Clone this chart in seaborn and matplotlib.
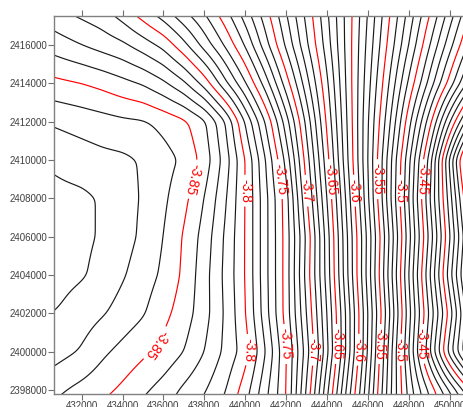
import numpy as np
import matplotlib
matplotlib.use("Agg")
import matplotlib.pyplot as plt
import seaborn as sns

sns.set_style("white")
plt.rcParams['font.family'] = ['Liberation Sans', 'DejaVu Sans']
plt.rcParams['contour.negative_linestyle'] = 'solid'

# ------------------------------------------------------------
# grid nodes (easting / northing in m) and field values
# ------------------------------------------------------------
easting = np.arange(430000, 451001, 1000)          # 22 columns
northing = [2397000, 2398000, 2400000, 2402000, 2404000, 2406000,
            2408000, 2410000, 2412000, 2414000, 2416000, 2418000]

z_2397000 = [-3.861, -3.857, -3.853, -3.848, -3.843, -3.837, -3.831, -3.824, -3.817, -3.807, -3.791,
             -3.771, -3.751, -3.705, -3.659, -3.612, -3.570, -3.524, -3.488, -3.464, -3.441, -3.417]
z_2398000 = [-3.864, -3.861, -3.857, -3.853, -3.848, -3.842, -3.836, -3.828, -3.821, -3.811, -3.795,
             -3.773, -3.751, -3.709, -3.663, -3.617, -3.573, -3.526, -3.486, -3.458, -3.429, -3.400]
z_2400000 = [-3.878, -3.873, -3.869, -3.862, -3.857, -3.852, -3.847, -3.840, -3.830, -3.818, -3.805,
             -3.780, -3.751, -3.715, -3.673, -3.626, -3.579, -3.529, -3.480, -3.432, -3.385, -3.345]
z_2402000 = [-3.881, -3.879, -3.875, -3.871, -3.866, -3.861, -3.853, -3.845, -3.834, -3.819, -3.801,
             -3.774, -3.746, -3.710, -3.670, -3.626, -3.580, -3.534, -3.484, -3.439, -3.396, -3.350]
z_2404000 = [-3.886, -3.883, -3.881, -3.877, -3.871, -3.865, -3.858, -3.848, -3.834, -3.818, -3.800,
             -3.773, -3.746, -3.706, -3.666, -3.621, -3.576, -3.529, -3.480, -3.432, -3.384, -3.340]
z_2406000 = [-3.886, -3.884, -3.882, -3.879, -3.874, -3.868, -3.860, -3.849, -3.836, -3.819, -3.800,
             -3.773, -3.746, -3.708, -3.665, -3.620, -3.577, -3.532, -3.484, -3.438, -3.391, -3.345]
z_2408000 = [-3.885, -3.883, -3.882, -3.879, -3.874, -3.869, -3.862, -3.853, -3.840, -3.822, -3.800,
             -3.773, -3.745, -3.701, -3.660, -3.616, -3.572, -3.526, -3.480, -3.432, -3.385, -3.335]
z_2410000 = [-3.879, -3.877, -3.875, -3.873, -3.872, -3.869, -3.864, -3.858, -3.846, -3.826, -3.800,
             -3.770, -3.737, -3.695, -3.654, -3.611, -3.570, -3.527, -3.483, -3.437, -3.378, -3.320]
z_2412000 = [-3.870, -3.868, -3.866, -3.864, -3.862, -3.861, -3.857, -3.852, -3.842, -3.821, -3.789,
             -3.759, -3.725, -3.687, -3.648, -3.609, -3.571, -3.534, -3.494, -3.455, -3.411, -3.370]
z_2414000 = [-3.854, -3.852, -3.850, -3.847, -3.843, -3.839, -3.832, -3.822, -3.806, -3.783, -3.761,
             -3.735, -3.705, -3.674, -3.642, -3.607, -3.574, -3.541, -3.508, -3.477, -3.446, -3.415]
z_2416000 = [-3.838, -3.834, -3.830, -3.826, -3.822, -3.815, -3.807, -3.793, -3.776, -3.759, -3.739,
             -3.714, -3.688, -3.662, -3.635, -3.606, -3.577, -3.548, -3.520, -3.491, -3.464, -3.437]
z_2418000 = [-3.824, -3.819, -3.815, -3.811, -3.802, -3.791, -3.780, -3.768, -3.757, -3.741, -3.722,
             -3.702, -3.679, -3.656, -3.631, -3.606, -3.580, -3.553, -3.528, -3.503, -3.478, -3.453]

label_levels = [-3.85, -3.8, -3.75, -3.7, -3.65, -3.6, -3.55, -3.5, -3.45]
x_ticks = list(range(432000, 450001, 2000))
y_ticks = list(range(2398000, 2416001, 2000))

Z = np.array([z_2397000, z_2398000, z_2400000, z_2402000, z_2404000, z_2406000,
              z_2408000, z_2410000, z_2412000, z_2414000, z_2416000, z_2418000])

# --- resample the node grid to a fine grid and smooth it a bit
xf = np.linspace(easting[0], easting[-1], 211)
yf = np.linspace(northing[0], northing[-1], 211)
tmp = np.array([np.interp(xf, easting, row) for row in Z])
ZF = np.array([np.interp(yf, northing, col) for col in tmp.T]).T


def smooth(a, s=2.0, n=6):
    k = np.exp(-0.5 * (np.arange(-n, n + 1) / s) ** 2)
    k /= k.sum()
    a = np.pad(a, n, mode='reflect', reflect_type='odd')
    a = np.apply_along_axis(lambda r: np.convolve(r, k, mode='same'), 0, a)
    a = np.apply_along_axis(lambda r: np.convolve(r, k, mode='same'), 1, a)
    return a[n:-n, n:-n]


ZF = smooth(ZF)
XF, YF = np.meshgrid(xf, yf)

all_levels = np.round(np.arange(-3.89, -3.295, 0.01), 2)
red_levels = [v for v in all_levels if abs(v * 20 - round(v * 20)) < 1e-6]
black_levels = [v for v in all_levels if v not in red_levels]

# ------------------------------------------------------------
# plot
# ------------------------------------------------------------
fig = plt.figure(figsize=(4.63, 4.07), dpi=100)
ax = fig.add_axes([0.1173, 0.0312, 0.8935, 0.9307])

ax.contour(XF, YF, ZF, levels=black_levels, colors='#1a1a1a', linewidths=0.85,
           linestyles='solid')
cs = ax.contour(XF, YF, ZF, levels=red_levels, colors='red', linewidths=0.85,
                linestyles='solid')

# label spots: where each labelled level crosses two rows of the map
keep = xf >= 434000
spots = []
for i, lv in enumerate(label_levels):
    for yrow in ([2409000, 2400400] if i % 2 == 0 else [2408400, 2400100]):
        j = np.argmin(np.abs(yf - yrow))
        spots.append((np.interp(lv, ZF[j, keep], xf[keep]), yf[j]))
texts = ax.clabel(cs, levels=label_levels, manual=spots, fmt='%g', inline=True,
                  inline_spacing=3, fontsize=10, colors='red')
# labels read top to bottom in the original map
for t in texts:
    r = t.get_rotation()
    if r < 180 and r > 0:
        t.set_rotation(r - 180)

ax.set_xlim(430660, 450900)
ax.set_ylim(2397776, 2417536)
ax.set_xticks(x_ticks)
ax.set_yticks(y_ticks)
ax.set_xticklabels([str(v) for v in x_ticks])
ax.set_yticklabels([str(v) for v in y_ticks])
ax.tick_params(direction='out', length=4, width=0.8, color='#707070', labelsize=7,
               labelcolor='#404040', pad=1, top=True, bottom=True, left=True, right=False)
for side in ['left', 'top', 'bottom', 'right']:
    ax.spines[side].set_color('#808080')
    ax.spines[side].set_linewidth(1.0)

fig.savefig('out.png', dpi=100)
